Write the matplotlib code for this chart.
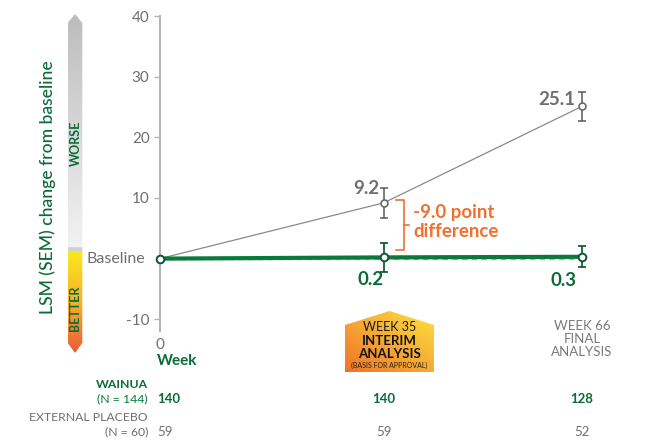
import matplotlib.pyplot as plt
import matplotlib.transforms as mtransforms
from matplotlib.patches import Polygon
import numpy as np

plt.rcParams['font.family'] = ['Lato', 'DejaVu Sans']
plt.rcParams['axes.unicode_minus'] = False

# data
weeks = [0, 35, 66]
placebo = [0, 9.2, 25.1]
placebo_sem = [0, 2.5, 2.45]
wainua = [0, 0.2, 0.3]
wainua_sem = [0, 2.4, 1.7]
wainua_n = [140, 140, 128]
placebo_n = [59, 59, 52]
yticks = [-10, 10, 20, 30, 40]

GREEN = '#0b6b38'
LINE_GREEN = '#0a7a3c'
GRAY = '#6f6f6f'
ORANGE = '#f07030'

fig = plt.figure(figsize=(6.51, 4.45), dpi=100)

# overlay axes in pixel coordinates
ov = fig.add_axes([0, 0, 1, 1])
ov.set_xlim(0, 651)
ov.set_ylim(445, 0)
ov.axis('off')

ax = fig.add_axes([160 / 651, (445 - 331.4) / 445, 447.6 / 651, (331.4 - 16) / 445])
ax.set_facecolor('none')
ax.set_xlim(0, 70)
ax.set_ylim(-12, 40)
for s in ['top', 'right', 'bottom']:
    ax.spines[s].set_visible(False)
ax.spines['left'].set_color('#b5b5b5')
ax.spines['left'].set_linewidth(1.5)
ax.set_xticks([])
ax.set_yticks(yticks)
ax.tick_params(axis='y', colors='#b5b5b5', length=4, width=1, labelcolor=GRAY, labelsize=11)
ax.text(-3, 0, 'Baseline', ha='right', va='center', color=GRAY, fontsize=11.5,
        transform=mtransforms.offset_copy(ax.transData, fig=fig, x=4, y=0, units='dots'))

# baseline dashed
ax.plot([weeks[0], weeks[-1]], [0, 0], ls='--', color='#b0b0b0', lw=1, dashes=(4, 3), zorder=1)

# placebo
ax.plot(weeks, placebo, color='#8a8a8a', lw=0.9, zorder=2)
ax.errorbar(weeks[1:], placebo[1:], yerr=placebo_sem[1:], fmt='none', ecolor='#5a5a5a',
            elinewidth=1.1, capsize=3, capthick=1.1, zorder=3)
ax.plot(weeks, placebo, 'o', ms=5, mfc='white', mec='#6a6a6a', mew=1.2, zorder=4, clip_on=False)

# wainua
ax.plot(weeks, wainua, color=LINE_GREEN, lw=3, zorder=5, solid_capstyle='round')
ax.errorbar(weeks[1:], wainua[1:], yerr=wainua_sem[1:], fmt='none', ecolor='#0a4f2a',
            elinewidth=1.2, capsize=3, capthick=1.2, zorder=6)
ax.plot(weeks, wainua, 'o', ms=5.5, mfc='white', mec='#0a5a30', mew=1.4, zorder=7, clip_on=False)

# value labels
ax.annotate(f'{placebo[1]}', (weeks[1], placebo[1]), xytext=(-4, 14), textcoords='offset pixels',
            ha='right', va='center', color=GRAY, fontsize=13.5, fontweight='bold')
ax.annotate(f'{placebo[2]}', (weeks[2], placebo[2]), xytext=(-7, 7), textcoords='offset pixels',
            ha='right', va='center', color=GRAY, fontsize=13.5, fontweight='bold')
ax.annotate(f'{wainua[1]}', (weeks[1], wainua[1]), xytext=(-13, -22), textcoords='offset pixels',
            ha='center', va='center', color=GREEN, fontsize=13.5, fontweight='bold')
ax.annotate(f'{wainua[2]}', (weeks[2], wainua[2]), xytext=(-19, -24), textcoords='offset pixels',
            ha='center', va='center', color=GREEN, fontsize=13.5, fontweight='bold')

# difference bracket
ov.plot([396, 403.5, 403.5, 396], [199.5, 199.5, 249.5, 249.5], color=ORANGE, lw=1.2)
ov.plot([403.5, 409], [224.5, 224.5], color=ORANGE, lw=1.2)
ov.text(413, 222, '-9.0 point\ndifference', ha='left', va='center', color=ORANGE,
        fontsize=13.5, fontweight='bold', linespacing=1.15)

# gradient arrow on the left
ys = np.arange(14, 354)
cols = np.zeros((len(ys), 1, 3))
gray_top = np.array([0.74, 0.74, 0.74])
gray_bot = np.array([0.95, 0.95, 0.95])
yel = np.array([0.98, 0.91, 0.12])
mid = np.array([0.96, 0.70, 0.15])
red = np.array([0.93, 0.36, 0.24])
for i, yy in enumerate(ys):
    if yy < 248:
        t = (yy - 14) / (248 - 14)
        cols[i, 0] = gray_top + (gray_bot - gray_top) * t
    elif yy < 252:
        cols[i, 0] = [0.82, 0.82, 0.82]
    else:
        t = (yy - 252) / (353 - 252)
        if t < 0.5:
            cols[i, 0] = yel + (mid - yel) * (t / 0.5)
        else:
            cols[i, 0] = mid + (red - mid) * ((t - 0.5) / 0.5)
arrow = Polygon([(75, 14), (82.3, 23), (82.3, 343), (75, 353), (67.7, 343), (67.7, 23)],
                closed=True, fc='none', ec='none')
ov.add_patch(arrow)
im = ov.imshow(cols, extent=[67.7, 82.3, 353, 14], aspect='auto', zorder=1)
im.set_clip_path(arrow)
ov.set_xlim(0, 651)
ov.set_ylim(445, 0)
ov.text(75.5, 143, 'WORSE', rotation=90, ha='center', va='center', color=GREEN,
        fontsize=9, fontweight='bold')
ov.text(75.5, 308, 'BETTER', rotation=90, ha='center', va='center', color=GREEN,
        fontsize=9, fontweight='bold')
ov.text(48, 187, 'LSM (SEM) change from baseline', rotation=90, ha='center', va='center',
        color=GREEN, fontsize=12.6, fontweight='medium')

# x labels
bt = mtransforms.blended_transform_factory(ax.transData, ov.transData)
ax.text(weeks[0], 345, '0', transform=bt, ha='center', va='center', color=GRAY, fontsize=11)
ax.text(weeks[0] - 0.5, 361, 'Week', transform=bt, ha='left', va='center', color=GREEN,
        fontsize=11, fontweight='bold')

# week 35 badge
bx0, bx1, by_top, by_sh, by_bot = 345, 434, 311, 325, 372
badge = Polygon([(bx0, by_bot), (bx0, by_sh), ((bx0 + bx1) / 2, by_top), (bx1, by_sh), (bx1, by_bot)],
                closed=True, fc='none', ec='none')
ov.add_patch(badge)
gx, gy = np.meshgrid(np.linspace(0, 1, 90), np.linspace(0, 1, 62))
c_or = np.array([0.94, 0.45, 0.16])
c_ye = np.array([0.99, 0.89, 0.25])
grad = c_or + (c_ye - c_or) * ((gx + (1 - gy)) / 2)[..., None]
bim = ov.imshow(grad, extent=[bx0, bx1, by_bot, by_top], aspect='auto', zorder=1)
bim.set_clip_path(badge)
ov.set_xlim(0, 651)
ov.set_ylim(445, 0)
ov.text(389.5, 327, 'WEEK 35', ha='center', va='center', color='#1a1a1a', fontsize=9)
ov.text(389.5, 341, 'INTERIM', ha='center', va='center', color='#111111', fontsize=9.5,
        fontweight='bold')
ov.text(389.5, 354, 'ANALYSIS', ha='center', va='center', color='#111111', fontsize=9.5,
        fontweight='bold')
ov.text(389.5, 365.5, '(BASIS FOR APPROVAL)', ha='center', va='center', color='#222222',
        fontsize=5)

ax.text(weeks[2], 339, 'WEEK 66\nFINAL\nANALYSIS', transform=bt, ha='center', va='center',
        color='#7a7a7a', fontsize=9.5, linespacing=1.15)

# N table
ov.text(148, 384, 'WAINUA', ha='right', va='center', color=GREEN, fontsize=8.8, fontweight='bold')
ov.text(148, 399, '(N = 144)', ha='right', va='center', color=LINE_GREEN, fontsize=8.8)
ov.text(148, 417.5, 'EXTERNAL PLACEBO', ha='right', va='center', color=GRAY, fontsize=8.8)
ov.text(148, 432, '(N = 60)', ha='right', va='center', color=GRAY, fontsize=8.8)
for i, (w, n_w, n_p) in enumerate(zip(weeks, wainua_n, placebo_n)):
    ha = 'left' if i == 0 else 'center'
    xx = w - 0.5 if i == 0 else w
    ax.text(xx, 399, str(n_w), transform=bt, ha=ha, va='center', color=GREEN, fontsize=9.5,
            fontweight='bold')
    ax.text(xx, 432, str(n_p), transform=bt, ha=ha, va='center', color=GRAY, fontsize=9.5)

fig.savefig('out.png', dpi=100)
